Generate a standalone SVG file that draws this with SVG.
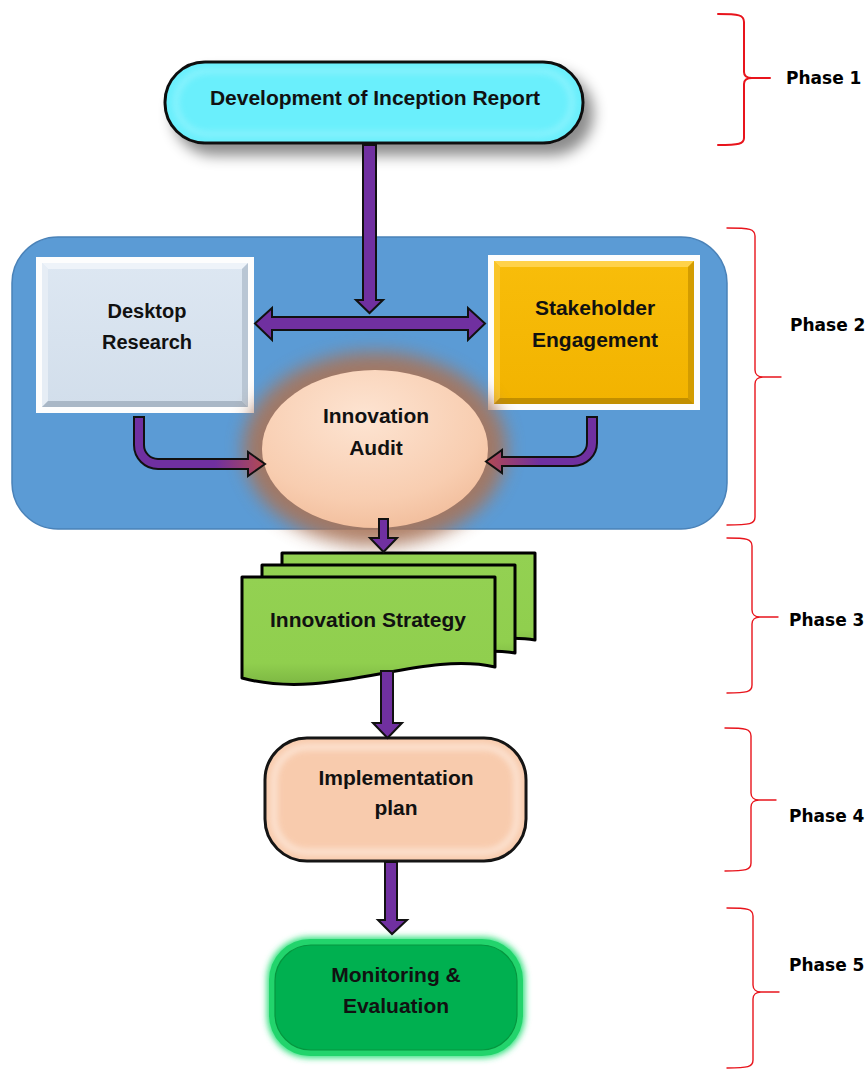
<svg xmlns="http://www.w3.org/2000/svg" width="868" height="1072" viewBox="0 0 868 1072">
  <style>
    .lbl { font-family: "Liberation Sans", Arial, sans-serif; font-weight: bold; font-size: 21px; fill: #111; text-anchor: middle; }
    .phase { font-family: "DejaVu Sans", Verdana, sans-serif; font-weight: bold; font-size: 17px; fill: #000; }
    .brace { fill: none; stroke: #e8141c; stroke-width: 1.4; stroke-linecap: round; stroke-linejoin: round; }
    .arrow { fill: #7030a0; stroke: #111; stroke-width: 2; stroke-linejoin: miter; }
    .doc { fill: url(#docFill); stroke: #000; stroke-width: 3; stroke-linejoin: round; }
  </style>
  <defs>
    <filter id="dropShadow" x="-20%" y="-40%" width="150%" height="200%">
      <feDropShadow dx="9" dy="11" stdDeviation="7" flood-color="#000" flood-opacity="0.45"/>
    </filter>
    <filter id="soft" x="-30%" y="-30%" width="160%" height="160%">
      <feGaussianBlur stdDeviation="9"/>
    </filter>
    <filter id="softSmall" x="-20%" y="-20%" width="140%" height="140%">
      <feGaussianBlur stdDeviation="3"/>
    </filter>
    <radialGradient id="auditFill" cx="0.45" cy="0.3" r="0.75">
      <stop offset="0" stop-color="#fde4d2"/>
      <stop offset="0.7" stop-color="#f8cdb0"/>
      <stop offset="1" stop-color="#f1bc9a"/>
    </radialGradient>
    <linearGradient id="docFill" x1="0" y1="0" x2="0" y2="1">
      <stop offset="0" stop-color="#93d152"/>
      <stop offset="0.8" stop-color="#90cf4e"/>
      <stop offset="1" stop-color="#7db743"/>
    </linearGradient>
    <linearGradient id="leftTip" gradientUnits="userSpaceOnUse" x1="215" y1="0" x2="265" y2="0">
      <stop offset="0" stop-color="#7030a0"/>
      <stop offset="1" stop-color="#b34a52"/>
    </linearGradient>
    <linearGradient id="rightTip" gradientUnits="userSpaceOnUse" x1="540" y1="0" x2="486" y2="0">
      <stop offset="0" stop-color="#7030a0"/>
      <stop offset="1" stop-color="#b34a52"/>
    </linearGradient>
    <linearGradient id="deskFill" x1="0" y1="0" x2="0" y2="1">
      <stop offset="0" stop-color="#dde7f2"/>
      <stop offset="1" stop-color="#d2deeb"/>
    </linearGradient>
    <linearGradient id="goldFill" x1="0" y1="0" x2="0" y2="1">
      <stop offset="0" stop-color="#f8bd0a"/>
      <stop offset="1" stop-color="#f2b300"/>
    </linearGradient>
  </defs>

  <!-- phase braces and labels -->
  <g id="phases">
    <path class="brace" style="stroke-width:2" d="M718,14 C739,14 744,15 744,22 L744,72 C744,76 747,78 752,78 L770,78 M752,78 C747,78 744,80 744,84 L744,138 C744,144 739,145 718,145"/>
    <path class="brace" d="M727,228 C750,228 755,229 755,236 L755,370 C755,374 758,377 763,377 L781,377 M763,377 C758,377 755,380 755,384 L755,517 C755,524 750,525 727,525"/>
    <path class="brace" d="M727,538 C747,538 752,539 752,546 L752,610 C752,614 755,617 760,617 L778,617 M760,617 C755,617 752,620 752,624 L752,685 C752,692 747,693 727,693"/>
    <path class="brace" d="M725,728 C746,728 751,729 751,736 L751,793 C751,797 754,800 759,800 L776,800 M759,800 C754,800 751,803 751,807 L751,863 C751,870 746,871 725,871"/>
    <path class="brace" d="M727,908 C748,908 753,909 753,916 L753,985 C753,989 756,992 761,992 L779,992 M761,992 C756,992 753,995 753,999 L753,1060 C753,1067 748,1068 727,1068"/>
    <text class="phase" x="786" y="84">Phase 1</text>
    <text class="phase" x="790" y="331">Phase 2</text>
    <text class="phase" x="789" y="626">Phase 3</text>
    <text class="phase" x="789" y="822">Phase 4</text>
    <text class="phase" x="789" y="971">Phase 5</text>
  </g>

  <!-- Phase 2 container -->
  <g id="phase2-panel">
    <rect x="12" y="237" width="715" height="292" rx="46" fill="#5b9bd5" stroke="#4a82b8" stroke-width="1.5"/>
  </g>

  <!-- Phase 1 -->
  <g id="inception-report">
    <rect x="165" y="62" width="418" height="81" rx="40" fill="#6aeffc" stroke="#111" stroke-width="3" filter="url(#dropShadow)"/>
    <rect x="176" y="71" width="396" height="63" rx="32" fill="none" stroke="#9ef6fe" stroke-width="5" opacity="0.7" filter="url(#softSmall)"/>
    <text class="lbl" x="375" y="105">Development of Inception Report</text>
  </g>

  <!-- Desktop Research -->
  <g id="desktop-research">
    <rect x="36" y="257" width="218" height="156" fill="#fdfdfd"/>
    <rect x="42" y="263" width="206" height="144" fill="url(#deskFill)"/>
    <polygon points="42,263 248,263 242,269 48,269" fill="#eef3f9"/>
    <polygon points="42,263 48,269 48,401 42,407" fill="#e6edf5"/>
    <polygon points="248,263 248,407 242,401 242,269" fill="#b9c6d4"/>
    <polygon points="42,407 248,407 242,401 48,401" fill="#a9b7c6"/>
    <text class="lbl" x="147" y="318" style="font-size:20px">Desktop</text>
    <text class="lbl" x="147" y="349" style="font-size:20px">Research</text>
  </g>

  <!-- Stakeholder Engagement -->
  <g id="stakeholder-engagement">
    <rect x="488" y="255" width="212" height="155" fill="#fdfdfd"/>
    <rect x="494" y="261" width="200" height="143" fill="url(#goldFill)"/>
    <polygon points="494,261 694,261 688,267 500,267" fill="#ffd24a"/>
    <polygon points="494,261 500,267 500,398 494,404" fill="#f9c52a"/>
    <polygon points="694,261 694,404 688,398 688,267" fill="#d39c00"/>
    <polygon points="494,404 694,404 688,398 500,398" fill="#c28f00"/>
    <text class="lbl" x="595" y="315">Stakeholder</text>
    <text class="lbl" x="595" y="347">Engagement</text>
  </g>

  <!-- Innovation Audit -->
  <g id="innovation-audit">
    <ellipse cx="375" cy="449" rx="132" ry="97" fill="#a8755a" opacity="0.9" filter="url(#soft)"/>
    <ellipse cx="375" cy="449" rx="113" ry="79" fill="url(#auditFill)"/>
    <text class="lbl" x="376" y="423">Innovation</text>
    <text class="lbl" x="376" y="455">Audit</text>
  </g>

  <!-- Innovation Strategy (stacked documents) -->
  <g id="innovation-strategy">
    <path class="doc" d="M282,553 L535,553 L535,640 C490,632 420,656 282,646 Z"/>
    <path class="doc" d="M262,565 L515,565 L515,653 C470,645 400,669 262,659 Z"/>
    <path class="doc" d="M242,577 L495,577 L495,667 C420,650 330,702 242,678 Z"/>
    <text class="lbl" x="368" y="627">Innovation Strategy</text>
  </g>

  <!-- Implementation plan -->
  <g id="implementation-plan">
    <rect x="265" y="738" width="261" height="123" rx="42" fill="#f8cbad" stroke="#111" stroke-width="3"/>
    <rect x="274" y="747" width="243" height="105" rx="34" fill="none" stroke="#fde8da" stroke-width="6" opacity="0.9" filter="url(#softSmall)"/>
    <text class="lbl" x="396" y="785">Implementation</text>
    <text class="lbl" x="396" y="815">plan</text>
  </g>

  <!-- Monitoring & Evaluation -->
  <g id="monitoring-evaluation">
    <rect x="267" y="937" width="258" height="121" rx="42" fill="#2fe07c" filter="url(#softSmall)"/>
    <rect x="269" y="939" width="254" height="117" rx="41" fill="#22d46c"/>
    <rect x="275" y="945" width="242" height="105" rx="36" fill="#00b050" stroke="#05963f" stroke-width="1.2"/>
    <text class="lbl" x="396" y="982">Monitoring &amp;</text>
    <text class="lbl" x="396" y="1013">Evaluation</text>
  </g>

  <!-- connectors -->
  <g id="connectors">
    <!-- inception report down to the split arrow -->
    <path class="arrow" d="M363,145 L376,145 L376,300 L383,300 L369.5,313 L356,300 L363,300 Z"/>
    <!-- two-way arrow between research and engagement -->
    <path class="arrow" d="M272,317 L468,317 L468,308 L485,323.5 L468,340 L468,330 L272,330 L272,340 L255,323.5 L272,308 Z"/>
    <!-- desktop research into the audit -->
    <path class="arrow" style="fill:url(#leftTip)" d="M134,417 L144,417 L144,445 A14,14 0 0 0 158,459 L248,459 L248,452 L265,464 L248,476 L248,469 L158,469 A24,24 0 0 1 134,445 Z"/>
    <!-- stakeholder engagement into the audit -->
    <path class="arrow" style="fill:url(#rightTip)" d="M597,417 L587,417 L587,443 A14,14 0 0 1 573,457 L502,457 L502,450 L486,461.5 L502,473 L502,466 L573,466 A24,23 0 0 0 597,443 Z"/>
    <!-- audit down to strategy -->
    <path class="arrow" d="M379,519 L388,519 L388,538 L397,538 L383.5,552 L370,538 L379,538 Z"/>
    <!-- strategy down to implementation -->
    <path class="arrow" d="M381,671 L393,671 L393,723 L402,723 L387.5,738 L373,723 L381,723 Z"/>
    <!-- implementation down to monitoring -->
    <path class="arrow" d="M385,862 L397,862 L397,920 L407,920 L392,934 L378,920 L385,920 Z"/>
  </g>
</svg>
